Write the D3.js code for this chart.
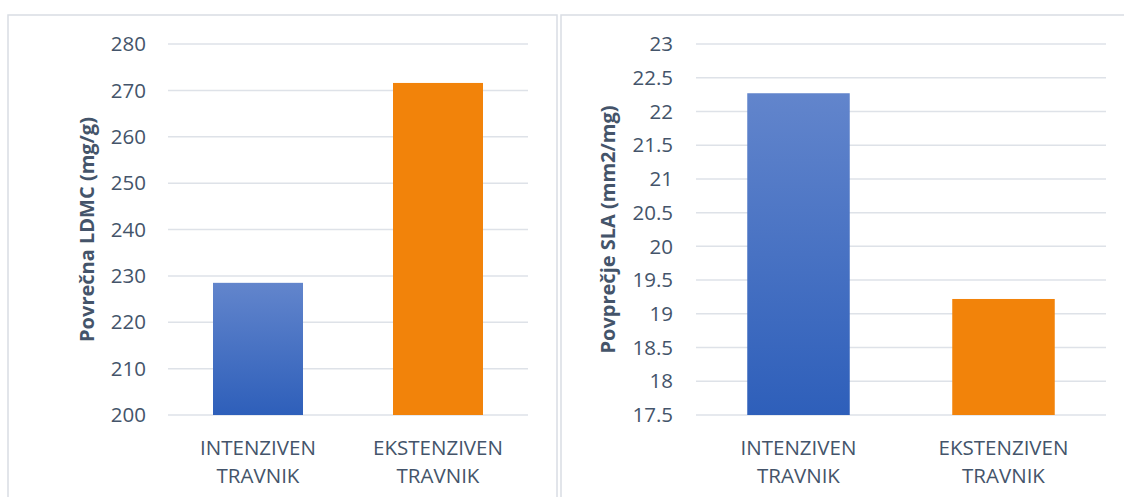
<!DOCTYPE html>
<html>
<head>
<meta charset="utf-8">
<script src="https://cdn.jsdelivr.net/npm/d3@7"></script>
<style>
  html, body { margin: 0; padding: 0; background: #ffffff; }
  svg { display: block; }
  text { font-family: "Open Sans", "Noto Sans", sans-serif; }
</style>
</head>
<body>
<svg id="chart" width="1124" height="497"></svg>
<script>
// Grassland types (each label broken into two lines)
const categories = [["INTENZIVEN", "TRAVNIK"], ["EKSTENZIVEN", "TRAVNIK"]];

// Mean leaf dry matter content (mg/g)
const ldmcValues = [228.5, 271.6];
const ldmcTicks = [200, 210, 220, 230, 240, 250, 260, 270, 280];

// Mean specific leaf area (mm2/mg)
const slaValues = [22.27, 19.22];
const slaTicks = [17.5, 18, 18.5, 19, 19.5, 20, 20.5, 21, 21.5, 22, 22.5, 23];

const barColors = ["url(#blueGrad)", "#F2830A"];

const svg = d3.select("#chart");
const TEXT = "#44546A";
const GRID = "#DEE2E8";
const BORDER = "#D9DDE4";

// vertical blue gradient for the first bar
const defs = svg.append("defs");
const grad = defs.append("linearGradient")
  .attr("id", "blueGrad").attr("x1", 0).attr("y1", 0).attr("x2", 0).attr("y2", 1);
grad.append("stop").attr("offset", "0%").attr("stop-color", "#6285CC");
grad.append("stop").attr("offset", "100%").attr("stop-color", "#2E5FBA");

function panel(cfg) {
  // panel frame
  svg.append("rect")
    .attr("x", cfg.frame[0]).attr("y", cfg.frame[1])
    .attr("width", cfg.frame[2]).attr("height", cfg.frame[3])
    .attr("fill", "none").attr("stroke", BORDER).attr("stroke-width", 1.5);

  const x = d3.scaleBand()
    .domain(d3.range(categories.length))
    .range([cfg.x0, cfg.x1])
    .paddingInner(0.5).paddingOuter(0.25);
  const y = d3.scaleLinear().domain(cfg.domain).range([cfg.yBottom, cfg.yTop]);

  const g = svg.append("g");

  // gridlines
  g.selectAll("line.grid").data(cfg.ticks).join("line")
    .attr("class", "grid")
    .attr("x1", cfg.x0).attr("x2", cfg.x1)
    .attr("y1", d => y(d)).attr("y2", d => y(d))
    .attr("stroke", GRID).attr("stroke-width", 1.5);

  // y tick labels
  g.selectAll("text.tick").data(cfg.ticks).join("text")
    .attr("class", "tick")
    .attr("x", cfg.labelX).attr("y", d => y(d))
    .attr("dy", "0.35em")
    .attr("text-anchor", "end")
    .attr("font-size", 20.5)
    .attr("fill", TEXT)
    .text(d => String(d));

  // bars
  g.selectAll("rect.bar").data(cfg.values).join("rect")
    .attr("class", "bar")
    .attr("x", (d, i) => x(i))
    .attr("width", x.bandwidth())
    .attr("y", d => y(d))
    .attr("height", d => y(cfg.domain[0]) - y(d))
    .attr("fill", (d, i) => barColors[i]);

  // category labels
  const cat = g.selectAll("text.cat").data(categories).join("text")
    .attr("class", "cat")
    .attr("text-anchor", "middle")
    .attr("font-size", 20.5)
    .attr("fill", TEXT);
  cat.selectAll("tspan").data((d, i) => d.map(s => ({ s, i }))).join("tspan")
    .attr("x", d => x(d.i) + x.bandwidth() / 2)
    .attr("y", (d, j) => 455 + j * 28)
    .text(d => d.s);

  // axis title
  g.append("text")
    .attr("transform", `translate(${cfg.titleX},${(cfg.yTop + cfg.yBottom) / 2}) rotate(-90)`)
    .attr("text-anchor", "middle")
    .attr("font-size", 20)
    .attr("font-weight", "bold")
    .attr("fill", TEXT)
    .text(cfg.title);
}

panel({
  frame: [8, 15, 549, 500],
  x0: 168, x1: 528, yTop: 44, yBottom: 415,
  domain: [200, 280], ticks: ldmcTicks, values: ldmcValues,
  labelX: 146, titleX: 94, title: "Povrečna LDMC (mg/g)"
});

panel({
  frame: [561, 15, 600, 500],
  x0: 696, x1: 1106, yTop: 44, yBottom: 415,
  domain: [17.5, 23], ticks: slaTicks, values: slaValues,
  labelX: 673, titleX: 615, title: "Povprečje SLA (mm2/mg)"
});
</script>
</body>
</html>
